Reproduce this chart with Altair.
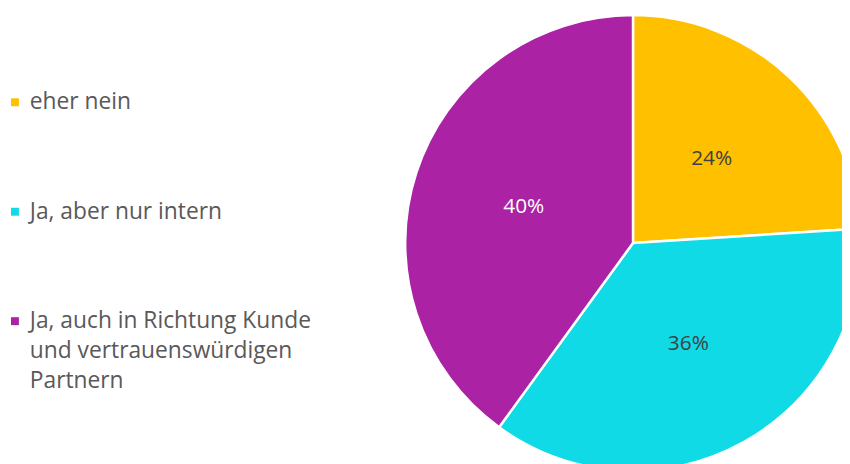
import altair as alt
import pandas as pd

categories = ["eher nein", "Ja, aber nur intern", "Ja, auch in Richtung Kunde\nund vertrauenswürdigen\nPartnern"]
values = [24, 36, 40]
labels = ["24%", "36%", "40%"]
colors = ["#FFC000", "#10DAE6", "#AB22A5"]

df = pd.DataFrame({"cat": categories, "value": values, "label": labels, "order": [0, 1, 2]})

cx, cy, R = 631, 235, 230
color_scale = alt.Scale(domain=categories, range=colors)
FONT = "Open Sans"

base = alt.Chart(df)

arcs = base.mark_arc(radius=R, stroke="white", strokeWidth=2.5).encode(
    theta=alt.Theta("value:Q", stack=True),
    order=alt.Order("order:Q"),
    color=alt.Color("cat:N", scale=color_scale, legend=None),
    x=alt.value(cx), y=alt.value(cy),
)

txt = base.mark_text(radius=116, font=FONT, fontSize=21, baseline="middle", align="center").encode(
    theta=alt.Theta("value:Q", stack=True),
    order=alt.Order("order:Q"),
    text="label:N",
    color=alt.condition(alt.datum.order == 2, alt.value("white"), alt.value("#404040")),
    x=alt.value(cx), y=alt.value(cy),
)

yscale = alt.Scale(type="point", domain=categories, range=[93, 314], padding=0)
leg_sq = base.mark_square(size=64, opacity=1).encode(
    x=alt.value(7),
    y=alt.Y("cat:N", scale=yscale, axis=None),
    color=alt.Color("cat:N", scale=color_scale, legend=None),
)
leg_txt = base.mark_text(align="left", baseline="alphabetic", dy=7, font=FONT, fontSize=23,
                         lineHeight=30, lineBreak="\n", color="#595959").encode(
    x=alt.value(22),
    y=alt.Y("cat:N", scale=yscale, axis=None),
    text="cat:N",
)

chart = alt.layer(arcs, txt, leg_sq, leg_txt).properties(
    width=842, height=456, padding=0, autosize=alt.AutoSizeParams(type="none")
).configure_view(stroke=None)

chart.save("out.html", embed_options={"renderer": "svg", "actions": False})
